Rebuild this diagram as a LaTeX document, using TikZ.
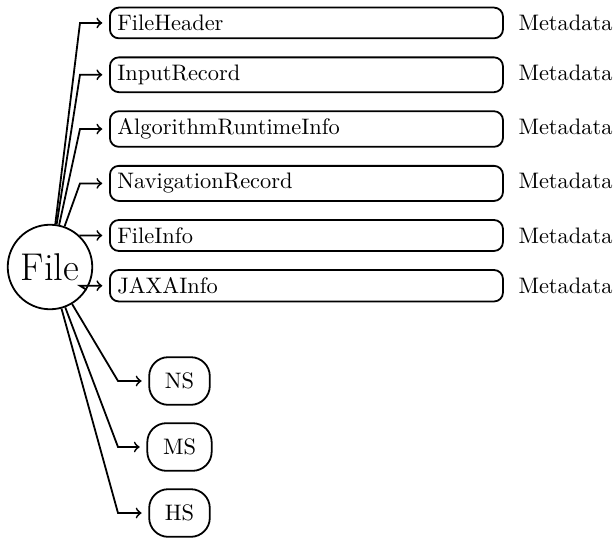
\documentclass[tikz,border=0pt]{standalone}
\usetikzlibrary{positioning}
\tikzset{
  recbox/.style={draw, thick, rounded corners=4pt, text width=168.8pt, align=left, anchor=north west},
  subbox/.style={draw, thick, rounded corners=8.5pt, inner sep=7pt},
  filenode/.style={draw, thick, circle, font=\LARGE},
  metalabel/.style={anchor=base west},
  link/.style={->, thick, shorten >=3pt},
}
\begin{document}
\begin{tikzpicture}[x=0.4464pt, y=-0.4464pt]
  \useasboundingbox (0,0) rectangle (616,542);

  % central file node
  \node[filenode] (file) at (50,267) {File};

  % record boxes, stacked with equal gaps
  \node[recbox] (fh) at (109,6.7) {FileHeader};
  \node[recbox, below=7.7pt of fh.south west, anchor=north west] (ir) {InputRecord};
  \node[recbox, below=7.7pt of ir.south west, anchor=north west] (ar) {AlgorithmRuntimeInfo};
  \node[recbox, below=7.7pt of ar.south west, anchor=north west] (nr) {NavigationRecord};
  \node[recbox, below=7.7pt of nr.south west, anchor=north west] (fi) {FileInfo};
  \node[recbox, below=7.7pt of fi.south west, anchor=north west] (ja) {JAXAInfo};

  % metadata labels
  \foreach \b/\m in {fh/m1, ir/m2, ar/m3, nr/m4, fi/m5, ja/m6}
    \node[metalabel] (\m) at ([xshift=3pt]\b.base east) {Metadata};

  % swath groups
  \node[subbox] (ns) at (179.5,381) {NS};
  \node[subbox] (ms) at (179.5,447) {MS};
  \node[subbox] (hs) at (179.5,513) {HS};

  % bend columns of the connectors
  \coordinate (ctop) at (80,0);
  \coordinate (cbot) at (118,0);

  \foreach \b in {fh, ir, ar, nr, fi, ja}
    \draw[link] (file) -- (\b.west -| ctop) -- (\b.west);
  \foreach \b in {ns, ms, hs}
    \draw[link] (file) -- (\b.west -| cbot) -- (\b.west);
\end{tikzpicture}
\end{document}
